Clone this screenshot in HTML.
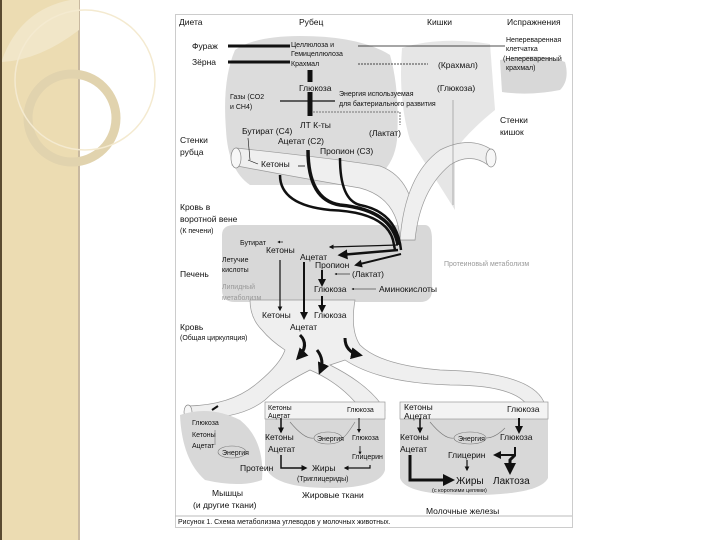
<!DOCTYPE html>
<html><head><meta charset="utf-8"><style>
html,body{margin:0;padding:0;width:720px;height:540px;overflow:hidden;background:#fff}
svg{display:block}
text{font-family:"Liberation Sans","Noto Sans CJK SC",sans-serif;fill:#111}
.s{font-size:7px}.m{font-size:8.5px}.l{font-size:10px}.g{fill:#999}
</style></head><body>
<svg width="720" height="540" viewBox="0 0 720 540">
<defs>
<marker id="b" markerWidth="4" markerHeight="4" refX="3" refY="2" orient="auto"><path d="M0,0L4,2L0,4z" fill="#111"/></marker>
</defs>
<!-- left strip -->
<rect x="0" y="0" width="79" height="540" fill="#ecdcb2"/>
<rect x="0" y="0" width="2" height="540" fill="#5a4a30"/>
<rect x="78" y="0" width="2" height="540" fill="#c9b9a0"/>
<path d="M2,60 Q20,10 70,0 L79,0 L79,30 Q40,60 2,62z" fill="#f1e6c8"/>
<circle cx="72" cy="118" r="44" fill="none" stroke="#e1d3ae" stroke-width="9"/>
<circle cx="85" cy="80" r="70" fill="none" stroke="#f4ead0" stroke-width="1.5"/>
<!-- frame -->
<rect x="175.5" y="14.5" width="397" height="513" fill="#fff" stroke="#ccc"/>
<line x1="175" y1="516" x2="572" y2="516" stroke="#bbb"/>
<!-- blobs -->
<path d="M235,50 Q255,36 300,36 Q360,36 390,55 Q400,90 397,140 Q393,175 360,185 L250,185 Q228,170 226,130 Q222,80 235,50z" fill="#dcdcdc"/>
<path d="M402,48 Q440,36 490,44 L495,110 Q470,130 455,150 L455,210 Q430,170 410,140 Q398,100 402,48z" fill="#e6e6e6"/>
<path d="M500,60 Q540,52 565,62 Q570,80 560,90 Q530,96 502,92z" fill="#d8d8d8"/>
<path d="M222,235 Q222,225 235,225 L425,225 Q432,225 432,240 L432,290 Q432,302 420,302 L235,302 Q222,302 222,290z" fill="#d8d8d8"/>
<!-- portal tube -->
<path d="M232,165 Q300,178 360,188 Q398,198 400,240 L415,240 Q418,180 380,166 Q330,158 236,148z" fill="#efefef" stroke="#999" stroke-width="0.7"/>
<path d="M400,240 Q405,175 440,150 Q470,135 492,150 L488,165 Q470,152 450,165 Q420,190 415,240z" fill="#efefef" stroke="#999" stroke-width="0.7"/>
<ellipse cx="236" cy="158" rx="5" ry="10" fill="#f7f7f7" stroke="#888" stroke-width="0.7"/>
<ellipse cx="491" cy="158" rx="5" ry="9" fill="#f7f7f7" stroke="#888" stroke-width="0.7"/>
<!-- blood vessel -->
<path d="M250,300 L355,300 Q350,330 360,345 Q380,365 440,370 Q535,372 545,405 L530,410 Q520,385 450,385 Q380,383 345,360 L330,365 Q370,385 385,410 L365,415 Q345,385 310,370 Q280,385 265,400 Q240,420 190,418 L188,406 Q230,405 255,385 Q280,365 285,350 Q270,340 262,330 Q250,318 250,300z" fill="#efefef" stroke="#999" stroke-width="0.7"/>
<ellipse cx="188" cy="412" rx="4" ry="7" fill="#f7f7f7" stroke="#888" stroke-width="0.7"/>
<!-- lower blobs -->
<path d="M180,415 Q210,405 240,420 Q265,440 262,480 Q240,488 205,480 Q182,460 180,415z" fill="#d8d8d8"/>
<path d="M265,418 L385,418 L385,470 Q380,488 330,488 Q270,488 265,465z" fill="#d8d8d8"/>
<rect x="265" y="402" width="120" height="17" fill="#f3f3f3" stroke="#999" stroke-width="0.7"/>
<path d="M400,418 L548,418 L548,478 Q540,495 470,495 Q405,495 400,478z" fill="#d8d8d8"/>
<rect x="400" y="402" width="148" height="17" fill="#f3f3f3" stroke="#999" stroke-width="0.7"/>
<!-- top lines -->
<g stroke="#111">
<line x1="228" y1="46" x2="290" y2="46" stroke-width="3"/>
<line x1="228" y1="62" x2="290" y2="62" stroke-width="3"/>
<line x1="358" y1="46" x2="505" y2="46" stroke-width="0.8"/>
<line x1="358" y1="64" x2="428" y2="64" stroke-width="0.7" stroke-dasharray="2,1"/>
<line x1="310" y1="70" x2="310" y2="82" stroke-width="5"/>
<line x1="310" y1="92" x2="310" y2="116" stroke-width="5"/>
<line x1="280" y1="101" x2="335" y2="101" stroke-width="1.2"/>
<path d="M313,112 L400,112 L400,125" fill="none" stroke-width="0.6" stroke-dasharray="2,1"/>
<line x1="248" y1="138" x2="250" y2="160" stroke-width="0.6"/>
<line x1="248" y1="160" x2="258" y2="164" stroke-width="0.6"/>
<path d="M280,175 Q280,205 330,210 Q385,212 393,240 L395,250" fill="none" stroke-width="2.5"/>
<path d="M308,150 Q308,200 340,205 Q392,210 398,245" fill="none" stroke-width="3.5"/>
<path d="M340,158 Q340,200 360,205 Q397,212 401,250" fill="none" stroke-width="2.5"/>
<path d="M298,166 L305,166" stroke-width="0.8"/>
<line x1="453" y1="100" x2="453" y2="205" stroke="#888" stroke-width="0.6"/>
<!-- liver arrows -->
<path d="M398,245 L330,247" stroke-width="1.2" marker-end="url(#b)" fill="none"/>
<path d="M398,250 L340,255" stroke-width="2.5" marker-end="url(#b)" fill="none"/>
<path d="M401,254 L356,265" stroke-width="2" marker-end="url(#b)" fill="none"/>
<line x1="283" y1="242" x2="278" y2="242" stroke-width="0.7" marker-end="url(#b)"/>
<line x1="350" y1="274" x2="335" y2="274" stroke-width="0.6" marker-end="url(#b)"/>
<line x1="376" y1="289" x2="352" y2="289" stroke-width="0.6" marker-end="url(#b)"/>
<line x1="280" y1="260" x2="280" y2="310" stroke-width="1.2" marker-end="url(#b)"/>
<line x1="304" y1="262" x2="304" y2="318" stroke-width="2" marker-end="url(#b)"/>
<line x1="322" y1="270" x2="322" y2="285" stroke-width="2" marker-end="url(#b)"/>
<line x1="322" y1="296" x2="322" y2="311" stroke-width="2" marker-end="url(#b)"/>
<path d="M300,335 Q310,345 298,358" stroke-width="3" fill="none" marker-end="url(#b)"/>
<path d="M317,350 Q325,360 320,372" stroke-width="3" fill="none" marker-end="url(#b)"/>
<path d="M345,338 Q345,352 360,355" stroke-width="3" fill="none" marker-end="url(#b)"/>
<!-- lower arrows -->
<line x1="281" y1="418" x2="281" y2="432" stroke-width="1.5" marker-end="url(#b)"/>
<line x1="359" y1="418" x2="359" y2="432" stroke-width="1" marker-end="url(#b)"/>
<line x1="360" y1="446" x2="360" y2="454" stroke-width="0.8" marker-end="url(#b)"/>
<path d="M281,455 L281,468 L306,468" stroke-width="1.5" fill="none" marker-end="url(#b)"/>
<path d="M370,465 L370,468 L345,468" stroke-width="1.2" fill="none" marker-end="url(#b)"/>
<line x1="420" y1="418" x2="420" y2="432" stroke-width="1.5" marker-end="url(#b)"/>
<line x1="519" y1="418" x2="519" y2="432" stroke-width="2" marker-end="url(#b)"/>
<path d="M410,455 L410,480 L452,480" stroke-width="3" fill="none" marker-end="url(#b)"/>
<path d="M515,447 L515,455 L495,455" stroke-width="2" fill="none" marker-end="url(#b)"/>
<path d="M515,455 L510,460 L510,472" stroke-width="3" fill="none" marker-end="url(#b)"/>
<line x1="467" y1="460" x2="467" y2="470" stroke-width="1.2" marker-end="url(#b)"/>
<line x1="212" y1="410" x2="218" y2="406" stroke-width="2"/>
</g>
<g fill="none" stroke="#777" stroke-width="0.6">
<ellipse cx="232" cy="452" rx="14" ry="6"/>
<ellipse cx="328" cy="438" rx="14" ry="6"/>
<ellipse cx="470" cy="438" rx="16" ry="6"/>
<path d="M290,422 Q305,440 314,438 M355,422 Q345,438 342,438 M430,422 Q445,440 454,438 M505,428 Q495,438 486,438 M215,430 L215,445"/>
</g>
<!-- text -->
<text class="m" x="179" y="25">Диета</text>
<text class="m" x="299" y="25">Рубец</text>
<text class="m" x="427" y="25">Кишки</text>
<text class="m" x="507" y="25">Испражнения</text>
<text class="m" x="192" y="49">Фураж</text>
<text class="m" x="192" y="65">Зёрна</text>
<text class="s" x="291" y="47">Целлюлоза и</text>
<text class="s" x="291" y="56">Гемицеллюлоза</text>
<text class="s" x="291" y="66">Крахмал</text>
<text class="s" x="506" y="42">Непереваренная</text>
<text class="s" x="506" y="51">клетчатка</text>
<text class="s" x="503" y="61">(Непереваренный</text>
<text class="s" x="506" y="70">крахмал)</text>
<text class="m" x="438" y="68">(Крахмал)</text>
<text class="m" x="299" y="91">Глюкоза</text>
<text class="m" x="437" y="91">(Глюкоза)</text>
<text class="s" x="339" y="96">Энергия используемая</text>
<text class="s" x="339" y="106">для бактериального развития</text>
<text class="s" x="230" y="99">Газы (CO2</text>
<text class="s" x="230" y="109">и CH4)</text>
<text class="m" x="300" y="128">ЛТ К-ты</text>
<text class="m" x="369" y="136">(Лактат)</text>
<text class="m" x="242" y="134">Бутират (C4)</text>
<text class="m" x="278" y="144">Ацетат (C2)</text>
<text class="m" x="320" y="154">Пропион (C3)</text>
<text class="m" x="180" y="143">Стенки</text>
<text class="m" x="180" y="155">рубца</text>
<text class="m" x="500" y="123">Стенки</text>
<text class="m" x="500" y="135">кишок</text>
<text class="m" x="261" y="167">Кетоны</text>
<text class="m" x="180" y="210">Кровь в</text>
<text class="m" x="180" y="222">воротной вене</text>
<text class="s" x="180" y="233">(К печени)</text>
<text class="s" x="240" y="245">Бутират</text>
<text class="m" x="266" y="253">Кетоны</text>
<text class="m" x="300" y="260">Ацетат</text>
<text class="m" x="315" y="268">Пропион</text>
<text class="s" x="222" y="262">Летучие</text>
<text class="s" x="222" y="272">кислоты</text>
<text class="m" x="180" y="277">Печень</text>
<text class="m" x="352" y="277">(Лактат)</text>
<text class="s g" x="222" y="289">Липидный</text>
<text class="s g" x="222" y="300">метаболизм</text>
<text class="m" x="314" y="292">Глюкоза</text>
<text class="m" x="379" y="292">Аминокислоты</text>
<text class="s g" x="444" y="266">Протеиновый метаболизм</text>
<text class="m" x="262" y="318">Кетоны</text>
<text class="m" x="314" y="318">Глюкоза</text>
<text class="m" x="290" y="330">Ацетат</text>
<text class="m" x="180" y="330">Кровь</text>
<text class="s" x="180" y="340">(Общая циркуляция)</text>
<text class="s" x="192" y="425">Глюкоза</text>
<text class="s" x="192" y="437">Кетоны</text>
<text class="s" x="192" y="448">Ацетат</text>
<text class="s" x="222" y="455">Энергия</text>
<text class="m" x="240" y="471">Протеин</text>
<text class="m" x="212" y="496">Мышцы</text>
<text class="m" x="193" y="508">(и другие ткани)</text>
<text class="s" x="268" y="410">Кетоны</text>
<text class="s" x="268" y="418">Ацетат</text>
<text class="s" x="347" y="412">Глюкоза</text>
<text class="m" x="265" y="440">Кетоны</text>
<text class="m" x="268" y="452">Ацетат</text>
<text class="s" x="317" y="441">Энергия</text>
<text class="s" x="352" y="440">Глюкоза</text>
<text class="s" x="352" y="459">Глицерин</text>
<text class="m" x="312" y="471">Жиры</text>
<text class="s" x="297" y="481">(Триглицериды)</text>
<text class="m" x="302" y="498">Жировые ткани</text>
<text class="m" x="404" y="410">Кетоны</text>
<text class="m" x="404" y="419">Ацетат</text>
<text class="m" x="507" y="412">Глюкоза</text>
<text class="m" x="400" y="440">Кетоны</text>
<text class="m" x="400" y="452">Ацетат</text>
<text class="s" x="458" y="441">Энергия</text>
<text class="m" x="500" y="440">Глюкоза</text>
<text class="m" x="448" y="458">Глицерин</text>
<text class="l" x="456" y="484">Жиры</text>
<text class="l" x="493" y="484">Лактоза</text>
<text class="s" x="432" y="492" style="font-size:5.5px">(с короткими цепями)</text>
<text class="m" x="426" y="514">Молочные железы</text>
<text class="s" x="178" y="524">Рисунок 1. Схема метаболизма углеводов у молочных животных.</text>
</svg>
</body></html>
